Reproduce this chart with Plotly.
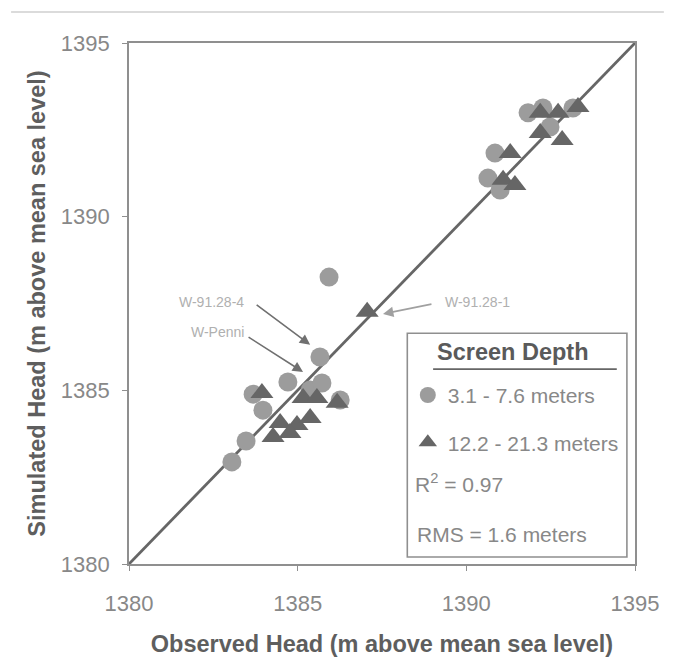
import plotly.graph_objects as go

# ---- data ----
shallow_obs = [1383.05, 1383.47, 1383.68, 1383.97, 1384.71, 1385.37, 1385.72, 1386.26, 1385.66, 1385.93,
               1391.83, 1392.27, 1393.16, 1392.48, 1390.85, 1390.64, 1391.00]
shallow_sim = [1382.94, 1383.54, 1384.89, 1384.43, 1385.24, 1385.01, 1385.21, 1384.72, 1385.96, 1388.26,
               1392.99, 1393.13, 1393.13, 1392.58, 1391.83, 1391.11, 1390.77]
deep_obs = [1383.94, 1385.16, 1385.57, 1386.17, 1384.48, 1384.98, 1385.37, 1384.27, 1384.77, 1387.06,
            1392.19, 1392.72, 1393.31, 1392.19, 1392.84, 1391.30, 1391.09, 1391.44]
deep_sim = [1384.92, 1384.78, 1384.78, 1384.64, 1384.06, 1384.00, 1384.20, 1383.66, 1383.77, 1387.26,
            1392.99, 1392.99, 1393.16, 1392.41, 1392.21, 1391.83, 1391.06, 1390.91]
line_xy = [1380, 1395]
ticks = [1380, 1385, 1390, 1395]
series_names = ["3.1 - 7.6 meters", "12.2 - 21.3 meters"]

FONT = "Liberation Sans, Arial, sans-serif"

fig = go.Figure()
fig.add_trace(go.Scatter(x=line_xy, y=line_xy, mode="lines",
                         line=dict(color="#666666", width=2.8), showlegend=False, hoverinfo="skip"))
fig.add_trace(go.Scatter(x=shallow_obs, y=shallow_sim, mode="markers", name=series_names[0],
                         legendgroup="a",
                         marker=dict(symbol="circle", size=19, color="#9c9c9c", line=dict(width=0))))
fig.add_trace(go.Scatter(x=deep_obs, y=deep_sim, mode="markers", name=series_names[1],
                         legendgroup="b",
                         marker=dict(symbol="triangle-up", size=20, color="#666666", line=dict(width=0))))

axis_common = dict(range=[1380, 1395], tickvals=ticks, showgrid=False, zeroline=False,
                   showline=True, linecolor="#8f8f8f", linewidth=1.6, mirror=True,
                   ticks="outside", ticklen=5, tickcolor="#8f8f8f",
                   tickfont=dict(family=FONT, size=22, color="#888888"))
fig.update_xaxes(**axis_common, ticklabelstandoff=14,
                 title=dict(text="<b>Observed Head (m above mean sea level)</b>",
                            font=dict(family=FONT, size=23.5, color="#5e5e5e"), standoff=20))
fig.update_yaxes(**axis_common, ticklabelstandoff=8,
                 title=dict(text="<b>Simulated Head (m above mean sea level)</b>",
                            font=dict(family=FONT, size=23.5, color="#5e5e5e"), standoff=9))

# legend box
fig.add_shape(type="rect", xref="paper", yref="paper", x0=0.55, x1=0.984, y0=0.0134, y1=0.443,
              line=dict(color="#8f8f8f", width=1.6), fillcolor="white", layer="below")
fig.add_shape(type="line", xref="paper", yref="paper", x0=0.601, x1=0.964, y0=0.374, y1=0.374,
              line=dict(color="#666666", width=1.6))
fig.add_annotation(xref="paper", yref="paper", x=0.758, y=0.407, xanchor="center", yanchor="middle",
                   text="<b>Screen Depth</b>",
                   showarrow=False, font=dict(family=FONT, size=23.5, color="#5a5a5a"))
fig.add_annotation(xref="paper", yref="paper", x=0.561, y=0.155, xanchor="left", yanchor="middle",
                   text="R<sup>2</sup> = 0.97", showarrow=False,
                   font=dict(family=FONT, size=21, color="#888888"))
fig.add_annotation(xref="paper", yref="paper", x=0.566, y=0.056, xanchor="left", yanchor="middle",
                   text="RMS = 1.6 meters", showarrow=False,
                   font=dict(family=FONT, size=21, color="#888888"))

# well labels and arrows
lab_font = dict(family=FONT, size=14, color="#b0b0b0")
fig.add_annotation(x=1383.48, y=1387.54, xanchor="right", text="W-91.28-4", showarrow=False, font=lab_font)
fig.add_annotation(x=1383.48, y=1386.68, xanchor="right", text="W-Penni", showarrow=False, font=lab_font)
fig.add_annotation(x=1389.30, y=1387.54, xanchor="left", text="W-91.28-1", showarrow=False, font=lab_font)
fig.add_annotation(x=1385.37, y=1386.31, ax=1383.74, ay=1387.49, axref="x", ayref="y",
                   text="", showarrow=True, arrowhead=2, arrowsize=1.3, arrowwidth=1.6,
                   arrowcolor="#707070")
fig.add_annotation(x=1385.16, y=1385.53, ax=1383.50, ay=1386.56, axref="x", ayref="y",
                   text="", showarrow=True, arrowhead=2, arrowsize=1.3, arrowwidth=1.6,
                   arrowcolor="#707070")
fig.add_annotation(x=1387.53, y=1387.20, ax=1389.01, ay=1387.49, axref="x", ayref="y",
                   text="", showarrow=True, arrowhead=2, arrowsize=1.3, arrowwidth=1.6,
                   arrowcolor="#a0a0a0")

# scanned figure frame
fig.add_shape(type="line", xref="paper", yref="paper", x0=-0.233, x1=1.057, y0=1.0595, y1=1.0595,
              line=dict(color="#cfcfcf", width=1.5))
fig.add_shape(type="line", xref="paper", yref="paper", x0=1.077, x1=1.077, y0=0.89, y1=-0.2,
              line=dict(color="#d5d5d5", width=1.5))

fig.update_layout(
    width=668, height=657,
    margin=dict(l=121, r=41, t=35, b=101),
    paper_bgcolor="white", plot_bgcolor="white",
    showlegend=True,
    legend=dict(x=0.551, y=0.363, xanchor="left", yanchor="top",
                bgcolor="rgba(0,0,0,0)", borderwidth=0, itemsizing="trace",
                tracegroupgap=17,
                font=dict(family=FONT, size=21, color="#888888")),
)

fig.write_html("out.html")
